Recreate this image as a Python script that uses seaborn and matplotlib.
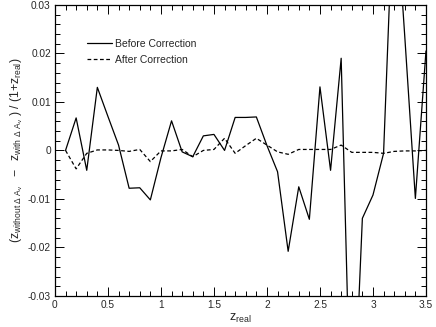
import matplotlib
matplotlib.use('Agg')
import matplotlib.pyplot as plt
import matplotlib.ticker as mticker
import numpy as np
import pandas as pd
import seaborn as sns

z_real = [0.1, 0.2, 0.3, 0.4, 0.5, 0.6, 0.7, 0.8, 0.9, 1.0,
          1.1, 1.2, 1.3, 1.4, 1.5, 1.6, 1.7, 1.8, 1.9, 2.0,
          2.1, 2.2, 2.3, 2.4, 2.5, 2.6, 2.7, 2.8, 2.9, 3.0,
          3.1, 3.2, 3.3, 3.4, 3.5]
before = [0.0, 0.0067, -0.0041, 0.0130, 0.0070, 0.0011, -0.0078, -0.0077, -0.0102, -0.0015,
          0.0061, -0.0003, -0.0013, 0.0030, 0.0033, 0.0000, 0.0068, 0.0068, 0.0069, 0.0010,
          -0.0044, -0.0208, -0.0075, -0.0142, 0.0131, -0.0041, 0.0190, -0.0650, -0.0140, -0.0092,
          -0.0006, 0.0560, 0.0235, -0.0099, 0.0205]
after = [0.0, -0.0038, -0.0006, 0.0001, 0.0001, 0.0000, -0.0002, 0.0002, -0.0023, -0.0001,
         -0.0001, 0.0002, -0.0013, 0.0000, 0.0002, 0.0025, -0.0006, 0.0010, 0.0025, 0.0011,
         -0.0003, -0.0008, 0.0002, 0.0002, 0.0002, 0.0002, 0.0011, -0.0004, -0.0004, -0.0004,
         -0.0006, -0.0002, -0.0001, -0.0001, 0.0000]

df = pd.DataFrame({
    'z': z_real * 2,
    'val': before + after,
    'kind': ['Before Correction'] * len(z_real) + ['After Correction'] * len(z_real),
})

sns.set_style('ticks')
plt.rcParams['font.family'] = ['Liberation Sans', 'DejaVu Sans']
plt.rcParams['mathtext.fontset'] = 'custom'
plt.rcParams['mathtext.rm'] = 'Liberation Sans'
plt.rcParams['mathtext.it'] = 'Liberation Sans'
plt.rcParams['mathtext.bf'] = 'Liberation Sans'

fig = plt.figure(figsize=(4.36, 3.27), dpi=100)
ax = fig.add_axes([0.126, 0.095, 0.851, 0.89])

sns.lineplot(data=df, x='z', y='val', hue='kind', style='kind',
             palette={'Before Correction': 'black', 'After Correction': 'black'},
             dashes={'Before Correction': '', 'After Correction': (3, 2)},
             linewidth=0.9, ax=ax)

ax.set_xlim(0, 3.5)
ax.set_ylim(-0.03, 0.03)
ax.xaxis.set_major_locator(mticker.MultipleLocator(0.5))
ax.xaxis.set_minor_locator(mticker.MultipleLocator(0.1))
ax.yaxis.set_major_locator(mticker.MultipleLocator(0.01))
ax.yaxis.set_minor_locator(mticker.MultipleLocator(0.002))
ax.xaxis.set_major_formatter(mticker.FuncFormatter(lambda v, p: f'{v:g}'))
ax.yaxis.set_major_formatter(mticker.FuncFormatter(lambda v, p: '0' if abs(v) < 1e-9 else f'{v:.2f}'))
ax.tick_params(which='both', direction='in', top=True, right=True, labelsize=7.3, color='black', width=0.7)
ax.tick_params(which='major', length=6.5, pad=3)
ax.tick_params(which='minor', length=3.5)
for s in ax.spines.values():
    s.set_linewidth(0.9)
    s.set_color('black')

ax.set_xlabel(r'$\mathrm{z_{real}}$', fontsize=9, labelpad=1)
ax.set_ylabel(r'$\mathrm{(z_{without\ \Delta\ A_v}\ \ -\ \ z_{with\ \Delta\ A_v}\ )\ /\ (1{+}z_{real})}$',
              fontsize=8.8, labelpad=2)

leg = ax.legend(loc='upper left', bbox_to_anchor=(0.06, 0.915), frameon=False,
                fontsize=7.5, handlelength=2.4, handletextpad=0.3, labelspacing=0.55)
for line in leg.get_lines():
    line.set_linewidth(0.9)

fig.savefig('out.png', dpi=100)
